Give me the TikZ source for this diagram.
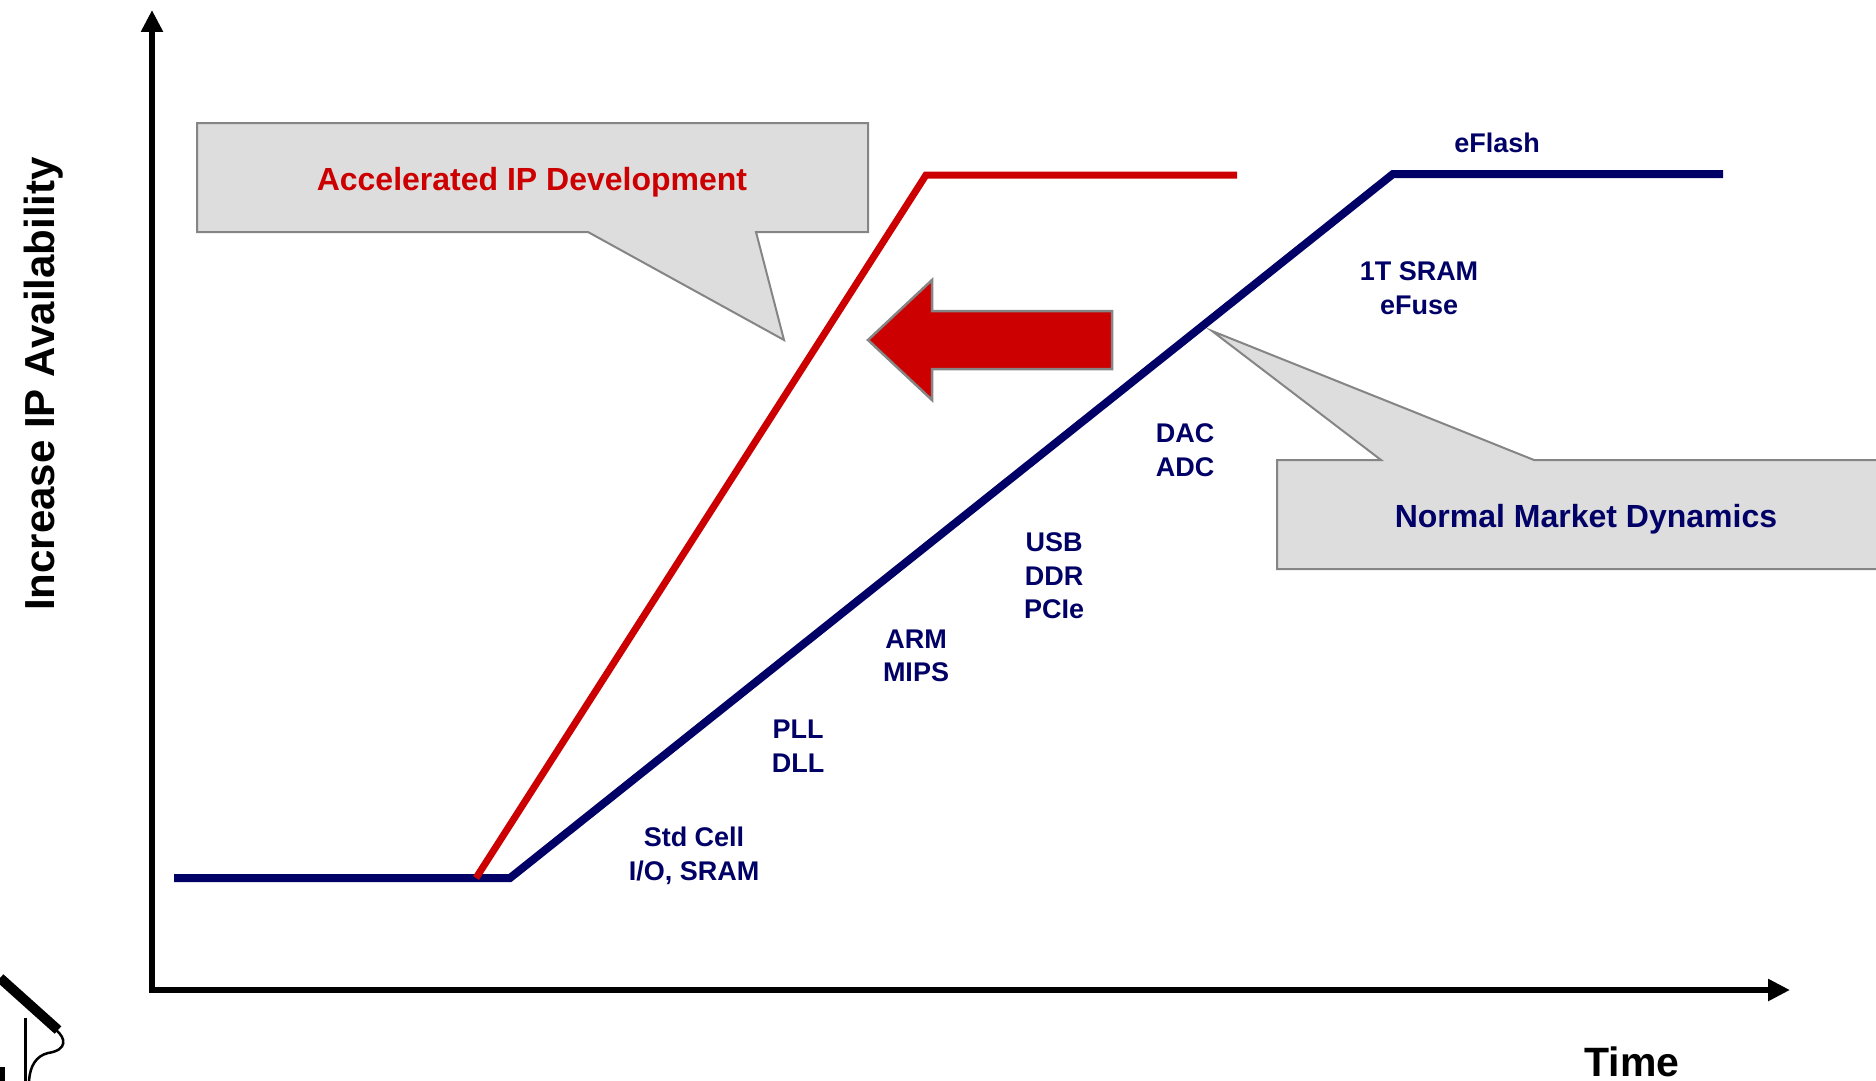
\documentclass[tikz,border=0pt]{standalone}
\usepackage{fontspec}
\setmainfont{Liberation Sans}
\usetikzlibrary{arrows.meta}
\usetikzlibrary{positioning}
\definecolor{navy}{HTML}{000066}
\definecolor{brightred}{HTML}{CC0000}
\definecolor{calloutgray}{HTML}{DDDDDD}
\definecolor{bordergray}{HTML}{858585}
\tikzset{
  axis/.style={
    draw,
    black,
    line width=6,
    -{Triangle[length=22,width=21]},
  },
  market curve/.style={
    draw,
    line width=8,
  },
  normal curve/.style={
    market curve,
    navy,
  },
  fast curve/.style={
    market curve,
    brightred,
    line width=7,
  },
  callout box/.style={
    draw=bordergray,
    fill=calloutgray,
    line width=2,
  },
  shift arrow/.style={
    draw=bordergray,
    fill=brightred,
    line width=2.5,
  },
  ip/.style={
    navy,
    align=center,
    inner sep=0,
    node font=\bfseries\fontsize{27}{33.5}\selectfont,
  },
  caption/.style={
    inner sep=0,
    anchor=base,
    node font=\bfseries\fontsize{32}{32}\selectfont,
  },
  axis label/.style={
    inner sep=0,
    anchor=base,
    node font=\bfseries\fontsize{41}{41}\selectfont,
  },
}

\begin{document}
\begin{tikzpicture}[x=1pt,y=-1pt]
  \useasboundingbox (0,0) rectangle (1876,1081);

  % callouts
  \path [callout box] (197,123) -- (868,123) -- (868,232) -- (756,232)
    -- (784,340) -- (588,232) -- (197,232) -- cycle;
  \path [callout box] (1277,460) -- (1381,460) -- (1212,331) -- (1534,460)
    -- (1890,460) -- (1890,569) -- (1277,569) -- cycle;
  \node (accelerated text) [caption,brightred] at (532,190) {Accelerated IP Development};
  \node (normal text)      [caption,navy]      at (1586,527) {Normal Market Dynamics};

  % axes
  \coordinate (origin) at (152,990);
  \coordinate (y top)  at (152,10);
  \coordinate (x end)  at (1790,990);
  \path [axis] (origin) -- (y top);
  \path [axis] ([xshift=-3]origin) -- (x end);
  \node (y label) [axis label,rotate=90,font=\fontsize{42}{42}\selectfont] at (54,384) {Increase IP Availability};
  \node (x label) [axis label]           at (1632,1076) {Time};

  % market curves
  \coordinate (normal start) at (174,878);
  \coordinate (normal knee)  at (510,878);
  \coordinate (normal top)   at (1393,174);
  \coordinate (normal end)   at (1723,174);
  \coordinate (fast start)   at (476,878);
  \coordinate (fast top)     at (926,175);
  \coordinate (fast end)     at (1237,175);
  \path [normal curve] (normal start) -- (normal knee) -- (normal top) -- (normal end);
  \path [fast curve] (fast start) -- (fast top) -- (fast end);

  % shift arrow
  \path [shift arrow] (868,340) -- (932,280) -- (932,311) -- (1112,311)
    -- (1112,369) -- (932,369) -- (932,400) -- cycle;

  % ip blocks
  \node (std cell) [ip] at (694,856)  {Std Cell\\I/O, SRAM};
  \node (pll)      [ip] at (798,746)  {PLL\\DLL};
  \node (arm)      [ip] at (916,656)  {ARM\\MIPS};
  \node (usb)      [ip] at (1054,576) {USB\\DDR\\PCIe};
  \node (dac)      [ip] at (1185,450) {DAC\\ADC};
  \node (sram)     [ip] at (1419,288) {1T SRAM\\eFuse};
  \node (eflash)   [ip,anchor=base] at (1497,152) {eFlash};

  % cut-off shape in the corner
  \draw [line width=10] (0,978) -- (58,1030);
  \draw [line width=3] (25,1018) -- (25,1081);
  \draw [line width=2.5] (56,1030) .. controls (66,1038) and (68,1050) .. (48,1053)
    .. controls (36,1056) and (30,1066) .. (29,1081);
  \fill (0,1067) rectangle (5,1081);
\end{tikzpicture}
\end{document}
